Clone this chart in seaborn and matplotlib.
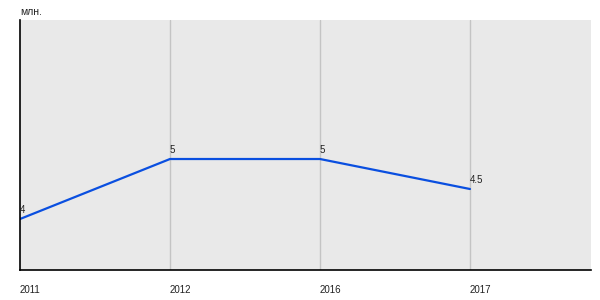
import matplotlib
matplotlib.use("Agg")
import matplotlib.pyplot as plt
import seaborn as sns
import pandas as pd

years = ["2011", "2012", "2016", "2017"]
values = [4.0, 5.0, 5.0, 4.5]
labels = ["4", "5", "5", "4.5"]
unit = "млн."

sns.set_style("white")
plt.rcParams['font.family'] = ['Liberation Sans', 'DejaVu Sans']

df = pd.DataFrame({"year": years, "value": values})

fig = plt.figure(figsize=(6, 3), dpi=100)
ax = fig.add_axes([20/600, 30/300, 571/600, 250/300])
ax.set_facecolor("#e9e9e9")

sns.lineplot(data=df, x="year", y="value", ax=ax, color="#0a4fe0", linewidth=1.6, sort=False)

for i, (v, t) in enumerate(zip(values, labels)):
    ax.annotate(t, (i, v), xytext=(0, 3), textcoords="offset points",
                fontsize=7, ha="left", va="bottom", color="#222222")

ax.set_xlim(0, 3.807)
ax.set_ylim(3.15, 7.317)
ax.set_xticks(range(len(years)))
ax.set_xticklabels(years, ha="left", fontsize=7, color="#222222")
ax.tick_params(axis="x", length=0, pad=11)
ax.set_yticks([])
ax.set_xlabel("")
ax.set_ylabel("")
for x in range(1, len(years)):
    ax.axvline(x, color="#c4c4c4", linewidth=1, zorder=0)

for s in ["top", "right"]:
    ax.spines[s].set_visible(False)
for s in ["left", "bottom"]:
    ax.spines[s].set_color("black")
    ax.spines[s].set_linewidth(1.2)

fig.text(20/600, 1 - 12/300, unit, fontsize=7.5, ha="left", va="center", color="#222222")

fig.savefig("out.png", dpi=100)
